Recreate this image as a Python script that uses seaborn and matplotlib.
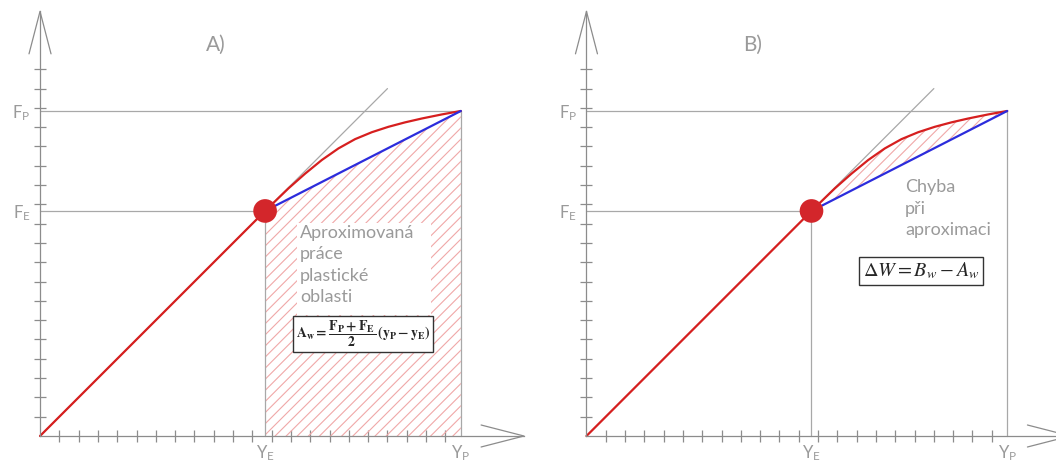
import numpy as np
import matplotlib
matplotlib.use("Agg")
import matplotlib.pyplot as plt
import seaborn as sns
from matplotlib.patches import Rectangle

sns.set_theme(style="white")
plt.rcParams['font.family'] = ['Lato', 'DejaVu Sans']
plt.rcParams['mathtext.fontset'] = 'custom'
plt.rcParams['mathtext.rm'] = 'Lato'
plt.rcParams['mathtext.it'] = 'Lato'
plt.rcParams['hatch.linewidth'] = 0.8

# characteristic points (axis units = one tick)
y_e, f_e = 11.66, 11.66
y_p, f_p = 21.8, 16.84
diag_end = 18.0

# real (red) load curve in the plastic region
curve_x = [11.66, 12.87, 13.73, 14.60, 15.46, 16.32, 17.19, 18.05, 18.91, 19.78, 20.81, 21.8]
curve_y = [11.66, 12.83, 13.59, 14.30, 14.90, 15.38, 15.74, 16.02, 16.25, 16.45, 16.66, 16.84]

x_ticks = list(range(1, 22))
y_ticks = list(range(1, 20))

GRAY = '#8c8c8c'
TXT = '#9a9a9a'
LGRAY = '#a8a8a8'
RED = '#d61f1f'
BLUE = '#2c2cdc'
HATCH = '#f0a8a8'


def draw_base(ax, xlim):
    ax.set_xlim(*xlim)
    ax.set_ylim(-1.399, 22.59)
    ax.set_facecolor('none')
    for s in ['top', 'right']:
        ax.spines[s].set_visible(False)
    for s in ['left', 'bottom']:
        ax.spines[s].set_position(('data', 0))
        ax.spines[s].set_color(GRAY)
        ax.spines[s].set_linewidth(0.9)
    ax.spines['left'].set_bounds(0, 22)
    ax.spines['bottom'].set_bounds(0, 25.07)

    ax.set_xticks(x_ticks, minor=True)
    ax.set_yticks(y_ticks, minor=True)
    ax.set_xticks([y_e, y_p], labels=['Y$_\\mathrm{E}$', 'Y$_\\mathrm{P}$'])
    ax.set_yticks([f_e, f_p], labels=['F$_\\mathrm{E}$', 'F$_\\mathrm{P}$'])
    ax.tick_params(which='minor', direction='inout', length=9, width=0.9, color=GRAY,
                   bottom=True, left=True)
    ax.tick_params(which='major', length=0, labelsize=12, labelcolor=TXT,
                   bottom=True, left=True)
    ax.tick_params(axis='x', which='major', pad=5)
    ax.tick_params(axis='y', which='major', pad=7)

    # arrow heads
    ax.plot([-0.57, 0, 0.57], [19.8, 22, 19.8], color=GRAY, lw=0.9)
    ax.plot([22.85, 25.07, 22.85], [0.57, 0, -0.57], color=GRAY, lw=0.9)

    # guide lines
    ax.plot([0, y_p], [f_p, f_p], color=LGRAY, lw=0.9)
    ax.plot([0, y_e], [f_e, f_e], color=LGRAY, lw=0.9)
    ax.plot([y_p, y_p], [0, f_p], color=LGRAY, lw=0.9)
    ax.plot([y_e, y_e], [0, f_e], color=LGRAY, lw=0.9)
    ax.plot([0, diag_end], [0, diag_end], color=LGRAY, lw=0.9)


def draw_curves(ax):
    sns.lineplot(x=[0, y_e], y=[0, f_e], color=RED, lw=1.6, ax=ax)
    sns.lineplot(x=curve_x, y=curve_y, sort=False, color=RED, lw=1.6, ax=ax)
    sns.lineplot(x=[y_e, y_p], y=[f_e, f_p], color=BLUE, lw=1.6, ax=ax)
    sns.scatterplot(x=[y_e], y=[f_e], s=290, color='#d3262b', edgecolor='none', ax=ax, zorder=5)


fig = plt.figure(figsize=(10.56, 4.63), dpi=100)
ax_a = fig.add_axes([0, 0, 0.5, 1])
ax_b = fig.add_axes([0.5, 0, 0.5, 1])

# ---- panel A
draw_base(ax_a, (-2.073, 25.28))
ax_a.fill([y_e, y_e, y_p, y_p], [0, f_e, f_p, 0], facecolor='none', edgecolor=HATCH,
          hatch='///', lw=0, zorder=1)
draw_curves(ax_a)
ax_a.add_patch(Rectangle((13.30, 6.27), 6.96, 4.75, facecolor='white', edgecolor='none', zorder=3))
ax_a.text(13.47, 10.95, "Aproximovaná\npráce\nplastické\noblasti", color=TXT, fontsize=13,
          va='top', ha='left', linespacing=1.42, zorder=4)
ax_a.text(16.75, 5.28, r"$\mathbf{A_w = \dfrac{F_P + F_E}{2}\,(y_P - y_E)}$", fontsize=10,
          math_fontfamily='stix', ha='center', va='center', zorder=4,
          bbox=dict(boxstyle='square,pad=0.2', facecolor='white', edgecolor='#333333', lw=1))
ax_a.text(9.12, 20.26, "A)", color=TXT, fontsize=15, ha='center', va='center')

# ---- panel B
draw_base(ax_b, (-3.03, 24.33))
ax_b.fill(curve_x, curve_y, facecolor='none', edgecolor=HATCH, hatch='///', lw=0, zorder=1)
draw_curves(ax_b)
ax_b.text(16.5, 13.3, "Chyba\npři\naproximaci", color=TXT, fontsize=13,
          va='top', ha='left', linespacing=1.42, zorder=4)
ax_b.text(17.33, 8.55, r"$\Delta W = B_w - A_w$", fontsize=14.5,
          math_fontfamily='stix', ha='center', va='center', zorder=4,
          bbox=dict(boxstyle='square,pad=0.2', facecolor='white', edgecolor='#333333', lw=1))
ax_b.text(8.63, 20.26, "B)", color=TXT, fontsize=15, ha='center', va='center')

for ax in (ax_a, ax_b):
    ax.set_xlabel('')
    ax.set_ylabel('')

fig.savefig('out.png', dpi=100, facecolor='white')
